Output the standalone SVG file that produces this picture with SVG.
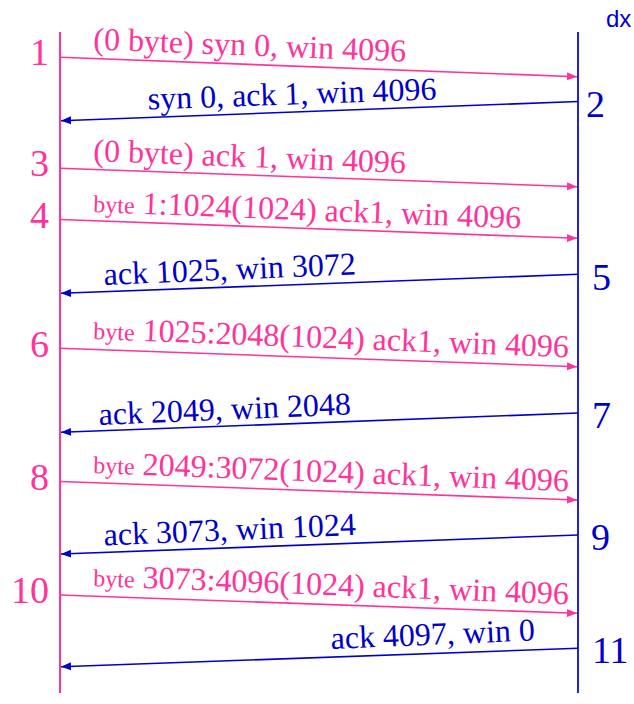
<svg xmlns="http://www.w3.org/2000/svg" width="634" height="704" viewBox="0 0 634 704">
<style>
.pk{fill:#FF3399}
.bl{fill:#0000CC}
.lab{font-family:"Liberation Serif","Times New Roman",serif;font-size:32px}
.num{font-family:"Liberation Serif","Times New Roman",serif;font-size:38px}
.sm{font-size:24px}
.pa{stroke:#FF3399;stroke-width:1.6;fill:none}
.ba{stroke:#0000CC;stroke-width:1.6;fill:none}
</style>
<defs>
<marker id="ap" markerUnits="userSpaceOnUse" markerWidth="11" markerHeight="9" refX="10" refY="4.5" orient="auto"><path d="M0,0.5 L10,4.5 L0,8.5 z" fill="#FF3399"/></marker>
<marker id="ab" markerUnits="userSpaceOnUse" markerWidth="11" markerHeight="9" refX="10" refY="4.5" orient="auto"><path d="M0,0.5 L10,4.5 L0,8.5 z" fill="#0000CC"/></marker>
</defs>
<rect width="634" height="704" fill="#FFFFFF"/>
<g id="lifeline-left">
<line x1="60" y1="32" x2="60" y2="693" stroke="#FF3399" stroke-width="2"/>
</g>
<g id="lifeline-right">
<line x1="578" y1="32" x2="578" y2="693" stroke="#2222D8" stroke-width="2"/>
<text class="bl" x="606" y="27" font-family="'Liberation Sans',Arial,sans-serif" font-size="24">dx</text>
</g>
<g id="connectors">
<line class="pa" x1="60" y1="57.3" x2="577" y2="76.7" marker-end="url(#ap)"/>
<line class="ba" x1="578" y1="101.5" x2="61" y2="120.7" marker-end="url(#ab)"/>
<line class="pa" x1="60" y1="168.3" x2="577" y2="186.7" marker-end="url(#ap)"/>
<line class="pa" x1="60" y1="219.5" x2="577" y2="238.3" marker-end="url(#ap)"/>
<line class="ba" x1="578" y1="274.3" x2="61" y2="293.3" marker-end="url(#ab)"/>
<line class="pa" x1="60" y1="348.3" x2="577" y2="366.7" marker-end="url(#ap)"/>
<line class="ba" x1="578" y1="413" x2="61" y2="432.3" marker-end="url(#ab)"/>
<line class="pa" x1="60" y1="481.5" x2="577" y2="500" marker-end="url(#ap)"/>
<line class="ba" x1="578" y1="535" x2="61" y2="554" marker-end="url(#ab)"/>
<line class="pa" x1="60" y1="595" x2="577" y2="613.3" marker-end="url(#ap)"/>
<line class="ba" x1="578" y1="648.3" x2="61" y2="666.7" marker-end="url(#ab)"/>
</g>
<g id="msg-labels">
<text class="lab pk" x="93" y="49.5" transform="rotate(2.2 93 49.5)">(0 byte) syn 0, win 4096</text>
<text class="lab bl" x="148" y="109.5" transform="rotate(-2 148 109.5)">syn 0, ack 1, win 4096</text>
<text class="lab pk" x="93" y="161" transform="rotate(2.2 93 161)">(0 byte) ack 1, win 4096</text>
<text class="lab pk" x="93" y="212" transform="rotate(2.2 93 212)"><tspan class="sm">byte</tspan> 1:1024(1024) ack1, win 4096</text>
<text class="lab bl" x="104" y="285" transform="rotate(-2.4 104 285)">ack 1025, win 3072</text>
<text class="lab pk" x="93" y="339" transform="rotate(2.2 93 339)"><tspan class="sm">byte</tspan> 1025:2048(1024) ack1, win 4096</text>
<text class="lab bl" x="99" y="425" transform="rotate(-2.4 99 425)">ack 2049, win 2048</text>
<text class="lab pk" x="93" y="473" transform="rotate(2.2 93 473)"><tspan class="sm">byte</tspan> 2049:3072(1024) ack1, win 4096</text>
<text class="lab bl" x="104" y="545.5" transform="rotate(-2.4 104 545.5)">ack 3073, win 1024</text>
<text class="lab pk" x="93" y="586" transform="rotate(2.2 93 586)"><tspan class="sm">byte</tspan> 3073:4096(1024) ack1, win 4096</text>
<text class="lab bl" x="331" y="649" transform="rotate(-2.4 331 649)">ack 4097, win 0</text>
</g>
<g id="step-numbers">
<text class="num pk" x="49" y="65" text-anchor="end">1</text>
<text class="num bl" x="586" y="117">2</text>
<text class="num pk" x="49" y="176" text-anchor="end">3</text>
<text class="num pk" x="49" y="228" text-anchor="end">4</text>
<text class="num bl" x="592" y="290">5</text>
<text class="num pk" x="49" y="357" text-anchor="end">6</text>
<text class="num bl" x="592" y="428">7</text>
<text class="num pk" x="49" y="490" text-anchor="end">8</text>
<text class="num bl" x="591" y="550">9</text>
<text class="num pk" x="49" y="603" text-anchor="end">10</text>
<text class="num bl" x="592" y="663">11</text>
</g>
</svg>
